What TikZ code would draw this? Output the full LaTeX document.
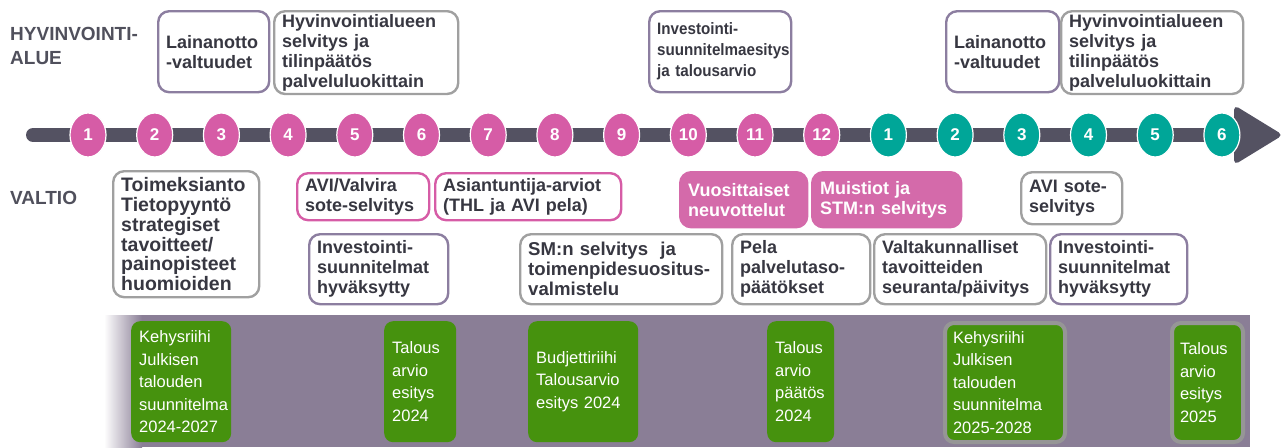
\documentclass[tikz,border=0pt]{standalone}
\usepackage{graphicx}
\usepackage{fontspec}
\setmainfont{Liberation Sans}
\usetikzlibrary{shapes.geometric}

\definecolor{barc}{RGB}{84,82,98}
\definecolor{pinkc}{RGB}{214,92,166}
\definecolor{tealc}{RGB}{0,166,152}
\definecolor{pinkfill}{RGB}{212,106,170}
\definecolor{pinkline}{RGB}{214,92,166}
\definecolor{purpline}{RGB}{140,126,160}
\definecolor{greyline}{RGB}{160,160,160}
\definecolor{bandc}{RGB}{138,126,150}
\definecolor{greenc}{RGB}{70,146,14}
\definecolor{ringgrey}{RGB}{150,150,150}
\definecolor{txt}{RGB}{55,55,65}
\definecolor{lblc}{RGB}{80,80,92}

\tikzset{
  bx/.style={rounded corners=11pt, line width=2.4pt, align=left, inner xsep=8pt,
    inner ysep=3pt, text=txt, font=\bfseries\fontsize{18}{20}\selectfont},
  purplebox/.style={bx, draw=purpline},
  greybox/.style={bx, draw=greyline},
  pinkbox/.style={bx, draw=pinkline},
  pinkfilled/.style={bx, draw=pinkfill, fill=pinkfill, text=white},
  gbox/.style={rounded corners=9pt, fill=greenc, text=white, align=left,
    inner xsep=7pt, font=\fontsize{16.5}{22.5}\selectfont},
  gboxo/.style={gbox, draw=ringgrey, line width=4pt},
  month/.style={ellipse, minimum width=36pt, minimum height=44pt, inner sep=0pt,
    draw=white, line width=1.2pt, text=white, font=\bfseries\fontsize{17}{17}\selectfont},
  lbl/.style={anchor=north west, align=left, text=lblc, inner sep=0pt,
    font=\bfseries\fontsize{19}{24}\selectfont},
}

% box from (x1,y1) to (x2,y2), text left aligned inside
\newcommand\placebox[7]{%
  \pgfmathsetmacro\bw{#5-#3}\pgfmathsetmacro\bh{#6-#4}\pgfmathsetmacro\tw{#5-#3-16}%
  \node[#2, anchor=north west, minimum width=\bw pt, minimum height=\bh pt,
    text width=\tw pt] (#1) at (#3,#4) {#7};}
% slightly narrowed block of lines
\newcommand\squeezed[1]{\scalebox{0.92}[1]{\fontsize{16.5}{21}\selectfont
  \begin{tabular}{@{}l@{}}#1\end{tabular}}}

\begin{document}
\begin{tikzpicture}[x=1pt,y=-1pt]
\useasboundingbox (0,0) rectangle (1282,447);

% budget band
\shade[left color=white, right color=bandc] (104,315) rectangle (142,447);
\fill[bandc] (141.5,315) rectangle (1250,447);

% time line
\coordinate (bs) at (33,135);
\coordinate (be) at (1242,135);
\draw[barc, line width=14pt, line cap=round] (bs) -- (be);
\fill[barc, rounded corners=5pt] (1234,105) -- (1283,135) -- (1234,165) -- cycle;

\foreach \i in {1,...,18}{
  \pgfmathtruncatemacro\mn{mod(\i-1,12)+1}
  \pgfmathsetmacro\mx{88+(\i-1)*66.7}
  \ifnum\i<13 \def\mcol{pinkc}\else\def\mcol{tealc}\fi
  \node[month, fill=\mcol] (m\i) at (\mx,135) {\mn};
}

% row labels
\node[lbl] (hv) at (10,27) {HYVINVOINTI-\\ALUE};
\node[lbl] (valtio) at (10,191) {VALTIO};

% wellbeing services county
\placebox{a1}{purplebox}{157}{10}{268}{91}{Lainanotto\\-valtuudet}
\placebox{a2}{greybox}{273}{10}{457}{91}{Hyvinvointialueen\\selvitys ja\\tilinpäätös\\palveluluokittain}
\placebox{a3}{purplebox}{648}{10}{790}{91}{\squeezed{Investointi-\\suunnitelmaesitys\\ja talousarvio}}
\placebox{a4}{purplebox}{945}{10}{1058}{91}{Lainanotto\\-valtuudet}
\placebox{a5}{greybox}{1060}{10}{1242}{91}{Hyvinvointialueen\\selvitys ja\\tilinpäätös\\palveluluokittain}

% state, upper row
\placebox{b1}{greybox, font=\bfseries\fontsize{19.5}{19.8}\selectfont}{112}{170}{258}{296}{Toimeksianto\\Tietopyyntö\\strategiset\\tavoitteet/\\painopisteet\\huomioiden}
\placebox{b2}{pinkbox}{296}{172}{428}{219}{AVI/Valvira\\sote-selvitys}
\placebox{b3}{pinkbox}{434}{172}{620}{219}{Asiantuntija-arviot\\(THL ja AVI pela)}
\placebox{b4}{pinkfilled}{679}{171}{806}{226}{Vuosittaiset\\neuvottelut}
\placebox{b5}{pinkfilled}{811}{171}{960}{226}{Muistiot ja\\STM:n selvitys}
\placebox{b6}{greybox}{1020}{171}{1121}{223}{AVI sote-\\selvitys}

% state, lower row
\placebox{c1}{purplebox}{308}{233}{447}{303}{Investointi-\\suunnitelmat\\hyväksytty}
\placebox{c2}{greybox, font=\bfseries\fontsize{18.6}{20}\selectfont}{519}{233}{721}{303}{SM:n selvitys\ \ ja\\toimenpidesuositus-\\valmistelu}
\placebox{c3}{greybox}{731}{233}{869}{303}{Pela\\palvelutaso-\\päätökset}
\placebox{c4}{greybox}{873}{233}{1045}{303}{Valtakunnalliset\\tavoitteiden\\seuranta/päivitys}
\placebox{c5}{purplebox}{1049}{233}{1186}{303}{Investointi-\\suunnitelmat\\hyväksytty}

% budget milestones
\placebox{g1}{gbox}{131}{321}{231}{442}{Kehysriihi\\Julkisen\\talouden\\suunnitelma\\2024-2027}
\placebox{g2}{gbox}{384}{321}{456}{442}{Talous\\arvio\\esitys\\2024}
\placebox{g3}{gbox}{528}{321}{638}{442}{Budjettiriihi\\Talousarvio\\esitys 2024}
\placebox{g4}{gbox}{767}{321}{834}{442}{Talous\\arvio\\päätös\\2024}
\placebox{g5}{gboxo}{943}{321}{1063}{440}{Kehysriihi\\Julkisen\\talouden\\suunnitelma\\2025-2028}
\placebox{g6}{gboxo}{1170}{321}{1241}{440}{Talous\\arvio\\esitys\\2025}
\end{tikzpicture}
\end{document}
